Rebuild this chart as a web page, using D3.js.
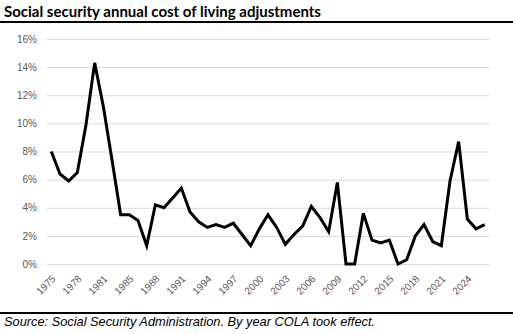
<!DOCTYPE html>
<html>
<head>
<meta charset="utf-8">
<script src="https://cdn.jsdelivr.net/npm/d3@7"></script>
<style>
  body { margin: 0; background: #fff; }
  svg { display: block; }
</style>
</head>
<body>
<svg id="chart"></svg>
<script>
// COLA by year it took effect (no COLA in 1983, when the date moved from July to January)
const years = ["1975", "1976", "1977", "1978", "1979", "1980", "1981", "1982",
    "1984", "1985", "1986", "1987", "1988", "1989", "1990", "1991", "1992", "1993",
    "1994", "1995", "1996", "1997", "1998", "1999", "2000", "2001", "2002", "2003",
    "2004", "2005", "2006", "2007", "2008", "2009", "2010", "2011", "2012", "2013",
    "2014", "2015", "2016", "2017", "2018", "2019", "2020", "2021", "2022", "2023",
    "2024", "2025", "2026"]
const cola = [8.0, 6.4, 5.9, 6.5, 9.9, 14.3, 11.2, 7.4,
    3.5, 3.5, 3.1, 1.3, 4.2, 4.0, 4.7, 5.4, 3.7, 3.0,
    2.6, 2.8, 2.6, 2.9, 2.1, 1.3, 2.5, 3.5, 2.6, 1.4,
    2.1, 2.7, 4.1, 3.3, 2.3, 5.8, 0.0, 0.0, 3.6, 1.7,
    1.5, 1.7, 0.0, 0.3, 2.0, 2.8, 1.6, 1.3, 5.9, 8.7,
    3.2, 2.5, 2.8]
const yTicks = [0, 2, 4, 6, 8, 10, 12, 14, 16]

const width = 513
const height = 334
const margin = { top: 39, right: 24, bottom: 70, left: 47 }

const svg = d3.select("#chart")
    .attr("width", width)
    .attr("height", height)

const data = years.map((y, i) => ({ year: y, value: cola[i] }))

const xScale = d3.scalePoint()
    .domain(years)
    .range([margin.left, width - margin.right])
    .padding(0.5)

const yScale = d3.scaleLinear()
    .domain([0, 16])
    .range([height - margin.bottom, margin.top])

// title and rules
svg.append("text")
    .attr("x", 4)
    .attr("y", 17)
    .style("font-family", "Lato, 'Noto Sans', sans-serif")
    .style("font-weight", "bold")
    .style("font-size", "15px")
    .style("fill", "#000")
    .text("Social security annual cost of living adjustments")

svg.append("line")
    .attr("x1", 0).attr("x2", width)
    .attr("y1", 22).attr("y2", 22)
    .style("stroke", "#000")
    .style("stroke-width", 2)

svg.append("line")
    .attr("x1", 0).attr("x2", width)
    .attr("y1", 313).attr("y2", 313)
    .style("stroke", "#000")
    .style("stroke-width", 2)

svg.append("text")
    .attr("x", 4)
    .attr("y", 326)
    .style("font-family", "'Liberation Sans', Arial, sans-serif")
    .style("font-style", "italic")
    .style("font-size", "12.8px")
    .style("fill", "#000")
    .text("Source: Social Security Administration. By year COLA took effect.")

// y axis with gridlines
const yAxis = svg.append("g")
    .attr("class", "y axis")
    .attr("transform", "translate(" + margin.left + ",0)")
    .call(d3.axisLeft(yScale)
        .tickValues(yTicks)
        .tickSize(-(width - margin.left - margin.right))
        .tickPadding(10)
        .tickFormat(d => d + "%"))

yAxis.select(".domain").remove()
yAxis.selectAll(".tick line")
    .style("stroke", "#d9d9d9")
    .style("stroke-width", 1)
yAxis.selectAll(".tick text")
    .style("font-family", "'Liberation Sans', Arial, sans-serif")
    .style("font-size", "10px")
    .style("fill", "#595959")

// x axis, every third category labelled
const xAxis = svg.append("g")
    .attr("class", "x axis")
    .attr("transform", "translate(0," + (height - margin.bottom) + ")")
    .call(d3.axisBottom(xScale)
        .tickValues(years.filter((d, i) => i % 3 === 0))
        .tickSize(0))

xAxis.select(".domain").remove()
xAxis.selectAll(".tick text")
    .style("font-family", "'Liberation Sans', Arial, sans-serif")
    .style("font-size", "10px")
    .style("fill", "#595959")
    .style("text-anchor", "end")
    .attr("x", 0)
    .attr("y", 0)
    .attr("dy", "0.35em")
    .attr("transform", "translate(2,13) rotate(-45)")

// the line
const line = d3.line()
    .x(d => xScale(d.year))
    .y(d => yScale(d.value))

svg.append("path")
    .datum(data)
    .attr("d", line)
    .style("fill", "none")
    .style("stroke", "#000")
    .style("stroke-width", 3)
    .style("stroke-linejoin", "miter")
</script>
</body>
</html>
